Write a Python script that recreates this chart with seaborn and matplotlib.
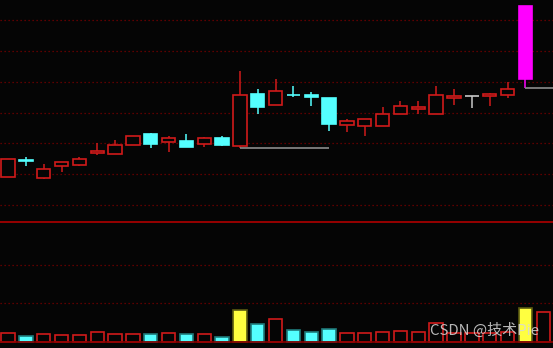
import numpy as np
import pandas as pd
import matplotlib
matplotlib.use("Agg")
import matplotlib.pyplot as plt
from matplotlib.lines import Line2D
import seaborn as sns

# ---------------- data ----------------
days = list(range(31))
open_ = [10.463, 10.733, 10.437, 10.631, 10.657, 10.851, 10.835, 10.971, 11.149, 11.019,
         11.040, 10.992, 11.084, 10.964, 11.793, 11.631, 11.788, 11.780, 11.736, 11.304,
         11.288, 11.288, 11.473, 11.563, 11.473, 11.731, 11.764, 11.764, 11.780, 12.044, np.nan]
high = [10.744, 10.782, 10.668, 10.696, 10.777, 11.008, 11.052, 11.117, 11.170, 11.117,
        11.154, 11.110, 11.117, 12.181, 11.882, 12.044, 11.930, 11.828, 11.736, 11.396,
        11.392, 11.591, 11.693, 11.688, 11.930, 11.877, 11.764, 11.817, 11.995, 13.225, np.nan]
low = [10.453, 10.631, 10.426, 10.534, 10.636, 10.819, 10.825, 10.971, 10.932, 10.858,
       10.939, 10.948, 10.964, 10.935, 11.482, 11.631, 11.752, 11.602, 11.202, 11.186,
       11.126, 11.288, 11.473, 11.482, 11.473, 11.628, 11.570, 11.607, 11.736, 11.906, np.nan]
close = [10.744, 10.723, 10.583, 10.696, 10.754, 10.879, 10.971, 11.117, 10.992, 11.089,
         10.939, 11.089, 10.981, 11.790, 11.583, 11.846, 11.780, 11.752, 11.320, 11.359,
         11.392, 11.477, 11.602, 11.591, 11.780, 11.764, 11.764, 11.796, 11.887, 13.225, np.nan]
volume = [2250, 1470, 2140, 1730, 1730, 2660, 2140, 1990, 2140, 2250,
          1990, 2140, 1290, 8190, 4570, 5870, 3020, 2510, 3280, 2250,
          2250, 2660, 2760, 2660, 4830, 2330, 2450, 2450, 2710, 8710, 7670]
limit_up_days = [13, 29]
highlight_day = 29
# support lines drawn from the low of each limit-up day
support_start = [13, 29]
support_end = [18, 31]

price_grid = [10.0, 10.5, 11.0, 11.5, 12.0, 12.5, 13.0]
volume_grid = [10000, 20000]
watermark = "CSDN @技术Pie"

# ---------------- style ----------------
BG = "#050505"
RED = "#d01a1a"
CYAN = "#54ffff"
YELLOW = "#ffff40"
MAGENTA = "#ff00ff"
DOJI = "#c8c8c8"
GRID = "#7a0000"

sns.set_style("dark", {"axes.facecolor": BG, "figure.facecolor": BG})
plt.rcParams["font.family"] = ["Noto Sans CJK SC", "DejaVu Sans"]

W, H = 553, 348
fig = plt.figure(figsize=(W / 100, H / 100), dpi=100)
fig.patch.set_facecolor(BG)

div_px = 222.3
axp = fig.add_axes([0, (H - div_px) / H, 1, div_px / H])
axv = fig.add_axes([0, 0, 1, (H - div_px) / H])

x_left, x_right = -0.448, 30.549
for ax in (axp, axv):
    ax.set_facecolor(BG)
    ax.set_xlim(x_left, x_right)
    for s in ax.spines.values():
        s.set_visible(False)
    ax.tick_params(left=False, bottom=False, labelleft=False, labelbottom=False)

# ---------------- price panel ----------------
axp.set_ylim(9.7249, 13.322)
for g in price_grid:
    axp.axhline(g, color=GRID, lw=0.9, ls=(0, (1, 2.2)), zorder=0)

df = pd.DataFrame({"day": days, "open": open_, "high": high, "low": low,
                   "close": close, "volume": volume})

for _, r in df.iterrows():
    if np.isnan(r["open"]):
        continue
    d = int(r["day"])
    o, c, h, l = r["open"], r["close"], r["high"], r["low"]
    if d == highlight_day:
        col, face = MAGENTA, MAGENTA
    elif c > o:
        col, face = RED, BG
    elif c < o:
        col, face = CYAN, CYAN
    else:
        col, face = DOJI, DOJI
    axp.vlines(d, l, h, color=col, lw=1.1, zorder=1)
    axp.bar(d, abs(c - o), bottom=min(o, c), width=0.75, facecolor=face,
            edgecolor=col, lw=1.2, zorder=2)

for s, e in zip(support_start, support_end):
    axp.hlines(low[s] - 0.003, s, min(e, x_right), color="#8c8c8c", lw=1.2, zorder=3)

# ---------------- volume panel ----------------
vol_px_per_unit = 38.7 / 10000
axv.set_ylim(-6 / vol_px_per_unit, (H - div_px - 6) / vol_px_per_unit)
for g in volume_grid:
    axv.axhline(g, color=GRID, lw=0.9, ls=(0, (1, 2.2)), zorder=0)
axv.axhline(0, color="#8a0000", lw=1.2, zorder=5)

sns.barplot(data=df, x="day", y="volume", native_scale=True, width=0.75,
            errorbar=None, ax=axv, color=RED, zorder=2)
axv.set_xlim(x_left, x_right)
axv.set_xlabel("")
axv.set_ylabel("")
for patch, (_, r) in zip(axv.patches, df.iterrows()):
    d = int(r["day"])
    if d in limit_up_days:
        patch.set_facecolor(YELLOW)
        patch.set_edgecolor("#5a5a10")
    elif r["close"] < r["open"]:
        patch.set_facecolor(CYAN)
        patch.set_edgecolor("#1f7a7a")
    else:
        patch.set_facecolor(BG)
        patch.set_edgecolor(RED)
    patch.set_linewidth(1.2)

axv.text(0.777, 0.14, watermark, transform=axv.transAxes, fontsize=10.8,
         color="#d8d8d8", alpha=0.85, ha="left", va="center", zorder=10)

# panel divider (solid red line between price and volume panels)
ydiv = (H - div_px) / H
fig.add_artist(Line2D([0, 1], [ydiv, ydiv], transform=fig.transFigure,
                      color="#b00000", lw=1.2, zorder=10))

fig.savefig("out.png", dpi=100, facecolor=BG)
